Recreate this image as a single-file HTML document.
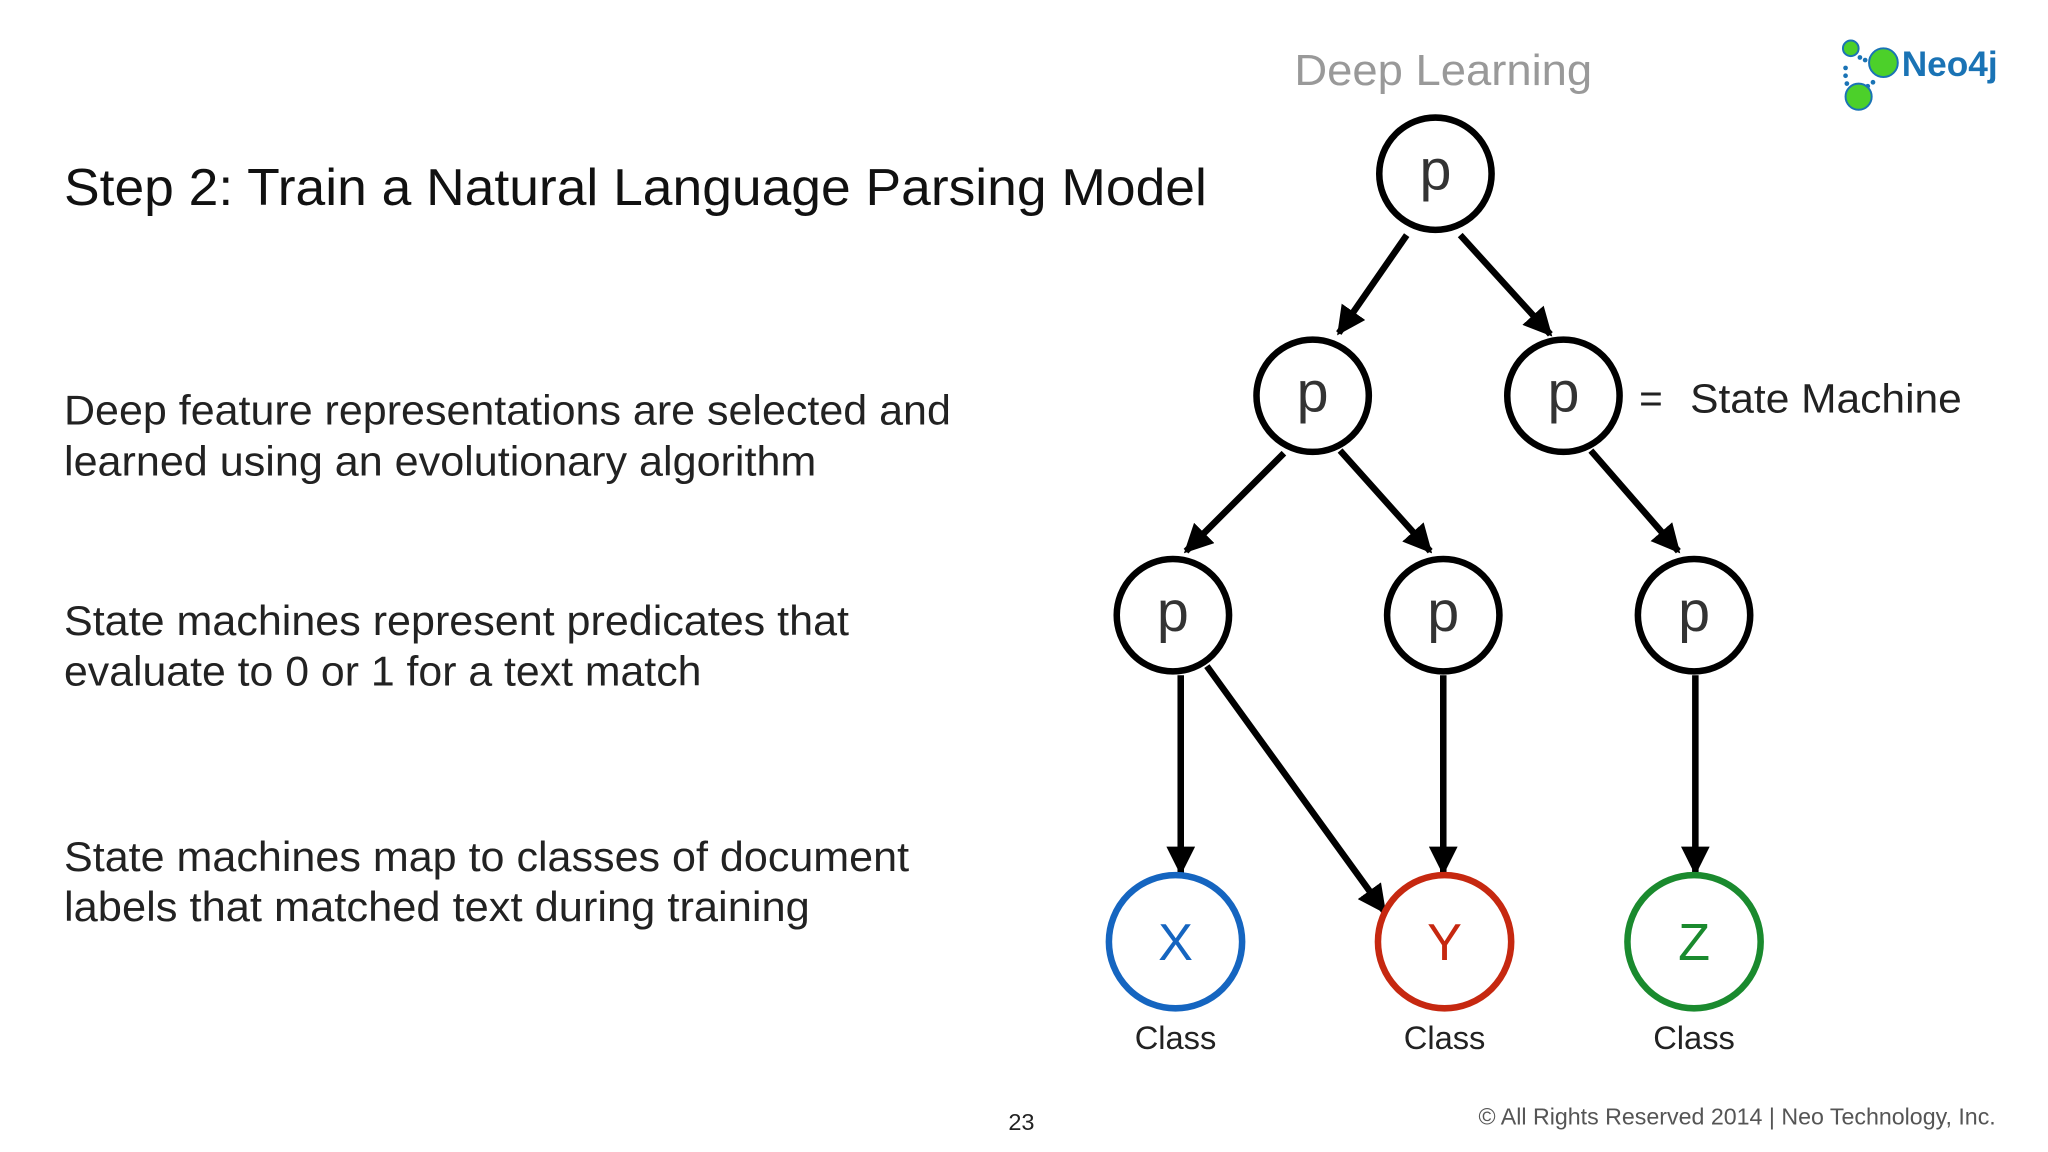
<!DOCTYPE html>
<html><head><meta charset="utf-8"><style>
html,body{margin:0;padding:0;background:#fff}
svg{display:block}
text{font-family:"Liberation Sans",sans-serif}
</style></head><body>
<svg width="2048" height="1152" viewBox="0 0 1568 882" xmlns="http://www.w3.org/2000/svg">
<defs>
<marker id="h" viewBox="0 0 10 10" refX="9" refY="5" markerWidth="22" markerHeight="22" markerUnits="userSpaceOnUse" orient="auto"><path d="M0,0 L10,5 L0,10 z" fill="#000"/></marker></defs>
<rect width="1568" height="882" fill="#fff"/>
<text x="49" y="157" font-size="40" fill="#111" textLength="875" lengthAdjust="spacingAndGlyphs">Step 2: Train a Natural Language Parsing Model</text>
<g font-size="32" fill="#222">
<text x="49" y="325" textLength="679" lengthAdjust="spacingAndGlyphs">Deep feature representations are selected and</text>
<text x="49" y="364" textLength="576" lengthAdjust="spacingAndGlyphs">learned using an evolutionary algorithm</text>
<text x="49" y="486" textLength="601" lengthAdjust="spacingAndGlyphs">State machines represent predicates that</text>
<text x="49" y="525" textLength="488" lengthAdjust="spacingAndGlyphs">evaluate to 0 or 1 for a text match</text>
<text x="49" y="667" textLength="647" lengthAdjust="spacingAndGlyphs">State machines map to classes of document</text>
<text x="49" y="705" textLength="571" lengthAdjust="spacingAndGlyphs">labels that matched text during training</text>
</g>
<text x="991" y="65" font-size="33" fill="#999" textLength="228" lengthAdjust="spacingAndGlyphs">Deep Learning</text>
<text x="1255" y="316" font-size="31" fill="#222">=</text>
<text x="1294" y="316" font-size="31" fill="#222" textLength="208" lengthAdjust="spacingAndGlyphs">State Machine</text>
<g stroke="#000" stroke-width="5" fill="none" marker-end="url(#h)">
<line x1="1077" y1="180" x2="1025" y2="255"/>
<line x1="1118" y1="180" x2="1187" y2="256"/>
<line x1="983" y1="347" x2="908" y2="422"/>
<line x1="1026" y1="345" x2="1095" y2="422"/>
<line x1="1218" y1="345" x2="1285" y2="422"/>
<line x1="904" y1="517" x2="904" y2="668"/>
<line x1="924" y1="510" x2="1060" y2="698"/>
<line x1="1105" y1="517" x2="1105" y2="668"/>
<line x1="1298" y1="517" x2="1298" y2="668"/>
</g>
<g stroke="#000" stroke-width="5" fill="#fff">
<circle cx="1099" cy="133" r="43"/>
<circle cx="1005" cy="303" r="43"/>
<circle cx="1197" cy="303" r="43"/>
<circle cx="898" cy="471" r="43"/>
<circle cx="1105" cy="471" r="43"/>
<circle cx="1297" cy="471" r="43"/>
</g>
<g font-size="44" fill="#333" text-anchor="middle">
<text x="1099" y="145">p</text><text x="1005" y="315">p</text><text x="1197" y="315">p</text>
<text x="898" y="483">p</text><text x="1105" y="483">p</text><text x="1297" y="483">p</text>
</g>
<circle cx="900" cy="721" r="51" stroke="#1565c0" stroke-width="5" fill="#fff"/>
<circle cx="1106" cy="721" r="51" stroke="#c62810" stroke-width="5" fill="#fff"/>
<circle cx="1297" cy="721" r="51" stroke="#1a8a2e" stroke-width="5" fill="#fff"/>
<g font-size="40" text-anchor="middle">
<text x="900" y="735" fill="#1565c0">X</text>
<text x="1106" y="735" fill="#c62810">Y</text>
<text x="1297" y="735" fill="#1a8a2e">Z</text>
</g>
<g font-size="25" fill="#222" text-anchor="middle">
<text x="900" y="803">Class</text><text x="1106" y="803">Class</text><text x="1297" y="803">Class</text>
</g>
<text x="772" y="865" font-size="18" fill="#222">23</text>
<text x="1132" y="861" font-size="18" fill="#555" textLength="396" lengthAdjust="spacingAndGlyphs">© All Rights Reserved 2014 | Neo Technology, Inc.</text>
<g>
<g fill="#1a73b5"><circle cx="1424" cy="44" r="1.8"/><circle cx="1428" cy="46" r="1.8"/><circle cx="1413" cy="52" r="1.8"/><circle cx="1413" cy="58" r="1.8"/><circle cx="1414" cy="64" r="1.8"/><circle cx="1416" cy="69" r="1.8"/><circle cx="1430" cy="66" r="1.8"/><circle cx="1434" cy="63" r="1.8"/></g>
<circle cx="1417" cy="37" r="6" fill="#4cd02a" stroke="#1a73b5" stroke-width="1.5"/>
<circle cx="1442" cy="48" r="11" fill="#4cd02a" stroke="#1a73b5" stroke-width="1.5"/>
<circle cx="1423" cy="74" r="10" fill="#4cd02a" stroke="#1a73b5" stroke-width="1.5"/>
<text x="1456" y="58" font-size="27" font-family="Liberation Serif,serif" font-weight="bold" fill="#1a73b5">Neo4j</text>
</g>
</svg>
</body></html>
